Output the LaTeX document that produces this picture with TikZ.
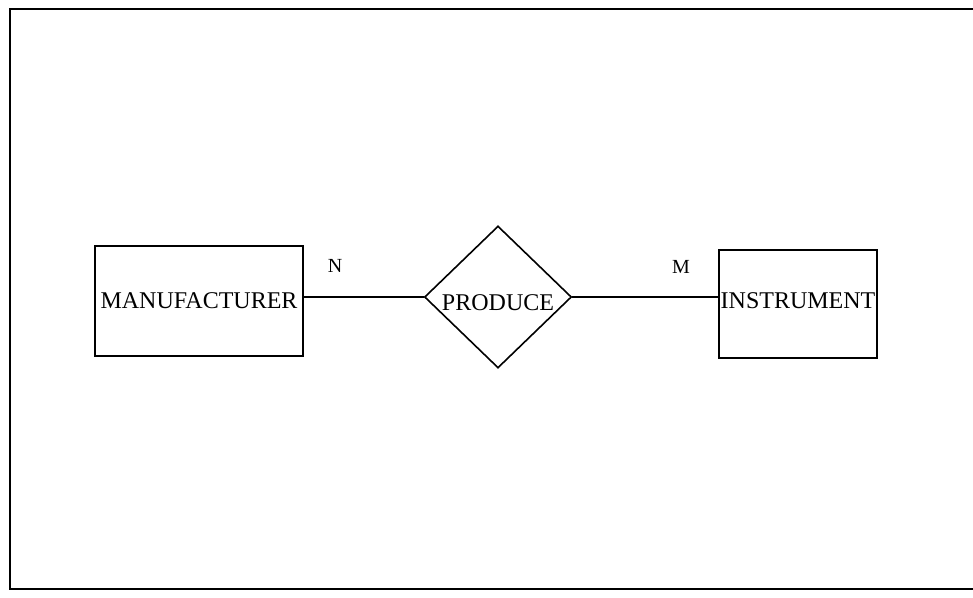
\documentclass[tikz,border=0pt]{standalone}
\usepackage{fontspec}
\setmainfont{Liberation Serif}
\usetikzlibrary{shapes.geometric}

\begin{document}
\begin{tikzpicture}[x=1pt,y=-1pt,
	entity/.style={draw,line width=1.6pt,inner sep=0pt,font=\fontsize{24}{24}\selectfont},
	relation/.style={draw,diamond,line width=1.6pt,inner sep=0pt,minimum width=147pt,minimum height=142pt,font=\fontsize{24}{24}\selectfont},
	card/.style={font=\fontsize{20}{20}\selectfont}]
		\useasboundingbox (0,0) rectangle (973,597);
		\draw[line width=2.4pt] (973,9) -- (10,9) -- (10,589) -- (973,589);
		\node[entity,minimum width=208pt,minimum height=110pt] (man) at (199,301) {MANUFACTURER};
		\node[relation,text height=26pt,text depth=0pt] (prod) at (498,297) {PRODUCE};
		\node[entity,minimum width=158pt,minimum height=108pt,text height=9pt,text depth=0pt] (inst) at (798,304) {INSTRUMENT};
		\draw[line width=1.6pt] (prod.west) -- (prod.west -| man.east);
		\draw[line width=1.6pt] (prod.east) -- (prod.east -| inst.west);
		\node[card] (n) at (335,266) {N};
		\node[card] (m) at (681,267) {M};
	\end{tikzpicture}
\end{document}
